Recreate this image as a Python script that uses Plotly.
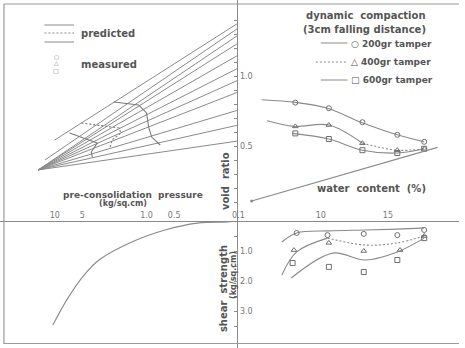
import plotly.graph_objects as go

# ---------------- data ----------------
# upper-right: void ratio vs water content (%)
w_200_line = [5.6, 8.2, 10.5, 13.0, 15.7, 17.7]
e_200_line = [0.83, 0.81, 0.77, 0.67, 0.58, 0.53]
w_400_line_a = [6.0, 8.0, 10.6, 13.1]
e_400_line_a = [0.68, 0.64, 0.65, 0.52]
w_400_line_b = [13.1, 15.7, 17.7]
e_400_line_b = [0.52, 0.47, 0.48]
w_600_line = [7.9, 10.6, 13.1, 15.7, 17.7]
e_600_line = [0.59, 0.55, 0.47, 0.45, 0.48]

w_meas = [8.1, 10.6, 13.1, 15.7, 17.7]
e_meas_200 = [0.81, 0.77, 0.67, 0.58, 0.53]
e_meas_400 = [0.64, 0.65, 0.52, 0.47, 0.48]
e_meas_600 = [0.59, 0.55, 0.47, 0.45, 0.48]

w_sat = [4.85, 18.7]
e_sat = [0.107, 0.49]

# lower-right: shear strength vs water content
w_s200 = [7.1, 8.2, 10.6, 13.3, 15.7, 17.7]
s_200 = [0.70, 0.40, 0.33, 0.30, 0.27, 0.23]
w_s400_a = [7.1, 8.2, 10.5]
s_400_a = [1.8, 1.03, 0.57]
w_s400_b = [10.5, 13.3, 15.7, 17.7]
s_400_b = [0.57, 0.80, 0.73, 0.50]
w_s600 = [7.8, 10.9, 13.3, 15.7, 17.7]
s_600 = [1.9, 1.07, 1.3, 1.03, 0.57]

w_sm200 = [8.2, 10.5, 13.2, 15.7, 17.7]
s_m200 = [0.40, 0.47, 0.43, 0.47, 0.30]
w_sm400 = [8.0, 10.6, 13.2, 15.9, 17.7]
s_m400 = [0.97, 0.73, 1.0, 0.97, 0.50]
w_sm600 = [7.9, 10.6, 13.2, 15.7, 17.7]
s_m600 = [1.4, 1.53, 1.7, 1.3, 0.57]

# lower-left: shear strength vs pre-consolidation pressure
p_curve = [10.5, 7.4, 5.0, 3.3, 1.45, 0.63, 0.28, 0.13, 0.105]
s_curve = [3.47, 2.63, 1.87, 1.30, 0.70, 0.30, 0.07, 0.03, 0.01]

# upper-left: fan of e - log p lines
fan_p_start = [10.0, 12.8, 15.2, 15.2, 15.2, 15.2, 15.2, 15.2, 15.2, 15.2, 15.2]
fan_e_start = [0.543, 0.40, 0.329, 0.329, 0.329, 0.329, 0.329, 0.329, 0.329, 0.329, 0.329]
fan_p_end = [0.1] * 11
fan_e_end = [1.379, 1.343, 1.293, 1.236, 1.15, 1.057, 0.971, 0.886, 0.757, 0.65, 0.536]

# predicted pre-consolidation curves
p_pred200 = [2.27, 1.22, 1.0, 0.95, 0.88, 0.71]
e_pred200 = [0.814, 0.793, 0.736, 0.636, 0.564, 0.507]
p_pred400 = [5.13, 3.53, 2.0, 1.9, 2.38, 2.44, 2.56]
e_pred400 = [0.664, 0.65, 0.629, 0.593, 0.543, 0.507, 0.486]
p_pred600 = [6.9, 4.75, 3.45, 4.0, 3.9]
e_pred600 = [0.593, 0.557, 0.521, 0.457, 0.421]

# ticks
p_ticks = [10, 5, 1, 0.5, 0.1]
p_ticktext = ["10", "5", "1.0", "0.5", "0.1"]
w_ticks = [10, 15]
w_ticktext = ["10", "15"]
e_ticks = [round(0.1 * i, 1) for i in range(1, 15)]
e_ticktext = ["1.0" if abs(v - 1.0) < 1e-9 else ("0.5" if abs(v - 0.5) < 1e-9 else "") for v in e_ticks]
s_ticks = [0.5, 1.0, 1.5, 2.0, 2.5, 3.0, 3.5]
s_ticktext = ["", "1.0", "", "2.0", "", "3.0", ""]

# ---------------- layout geometry ----------------
W, H = 465, 348
X0, Y0 = 241.5, 221.0   # origin in pixels


def px(x):
    return x / W


def py(y):
    return 1 - y / H


def w_of(x):
    return 10 + (x - 325) / 13.6


def logp_of(x):
    return -1 + (X0 - x) / 93.0


def e_of(y):
    return 1 - (y - 76) / 140.0


def s_of(y):
    return (y - Y0) / 30.0


LC = "#8a8a8a"
TC = "#555555"
MC = "#707070"
FONT = "DejaVu Sans"
DOT = "2px,2px"

fig = go.Figure()


def line(x, y, xa, ya, dash="solid", shape="spline", width=1.1, color=LC):
    fig.add_trace(go.Scatter(x=x, y=y, xaxis=xa, yaxis=ya, mode="lines",
                             line=dict(color=color, width=width, dash=dash, shape=shape),
                             showlegend=False, hoverinfo="skip"))


def marks(x, y, xa, ya, symbol):
    fig.add_trace(go.Scatter(x=x, y=y, xaxis=xa, yaxis=ya, mode="markers",
                             marker=dict(symbol=symbol, size=5, color=MC,
                                         line=dict(color=MC, width=1)),
                             showlegend=False, hoverinfo="skip"))


# upper-right
line(w_200_line, e_200_line, "x", "y")
line(w_400_line_a, e_400_line_a, "x", "y")
line(w_400_line_b, e_400_line_b, "x", "y", dash=DOT)
line(w_600_line, e_600_line, "x", "y")
marks(w_meas, e_meas_200, "x", "y", "circle-open")
marks(w_meas, e_meas_400, "x", "y", "triangle-up-open")
marks(w_meas, e_meas_600, "x", "y", "square-open")
line(w_sat, e_sat, "x", "y", shape="linear")
fig.add_trace(go.Scatter(x=w_sat[:1], y=e_sat[:1], xaxis="x", yaxis="y", mode="markers",
                         marker=dict(size=3, color=LC), showlegend=False, hoverinfo="skip"))

# lower-right
line(w_s200, s_200, "x", "y2")
line(w_s400_a, s_400_a, "x", "y2")
line(w_s400_b, s_400_b, "x", "y2", dash=DOT)
line(w_s600, s_600, "x", "y2")
marks(w_sm200, s_m200, "x", "y2", "circle-open")
marks(w_sm400, s_m400, "x", "y2", "triangle-up-open")
marks(w_sm600, s_m600, "x", "y2", "square-open")

# lower-left
line(p_curve, s_curve, "x2", "y2")

# upper-left fan
for i in range(len(fan_e_end)):
    line([fan_p_start[i], fan_p_end[i]], [fan_e_start[i], fan_e_end[i]], "x2", "y",
         shape="linear", width=1.0)
line(p_pred200, e_pred200, "x2", "y", shape="linear", color="#7a7a7a")
line(p_pred400, e_pred400, "x2", "y", shape="linear", dash=DOT, color="#7a7a7a")
line(p_pred600, e_pred600, "x2", "y", shape="linear", color="#7a7a7a")

axis_common = dict(showgrid=False, zeroline=False, showline=True, linecolor=LC,
                   linewidth=1.2, tickfont=dict(family=FONT, size=8, color="#777777"))

fig.update_layout(
    width=W, height=H, margin=dict(l=0, r=0, t=0, b=0),
    paper_bgcolor="white", plot_bgcolor="white", showlegend=False,
    xaxis=dict(domain=[px(X0), 1], range=[w_of(X0), w_of(W)], anchor="y",
               tickvals=w_ticks, ticktext=w_ticktext, ticks="",
               ticklabelposition="inside", ticklabeloverflow="allow", **axis_common),
    xaxis2=dict(domain=[0, px(X0)], type="log", range=[logp_of(0), logp_of(X0)], anchor="y",
                tickvals=p_ticks, ticktext=p_ticktext, ticks="",
                ticklabelposition="inside", ticklabeloverflow="allow", **axis_common),
    yaxis=dict(domain=[py(Y0), 1], range=[e_of(Y0), e_of(0)], anchor="x",
               tickvals=e_ticks, ticktext=e_ticktext, ticks="outside", ticklen=3,
               tickcolor=LC, ticklabelposition="inside", ticklabeloverflow="allow",
               **axis_common),
    yaxis2=dict(domain=[0, py(Y0)], range=[s_of(H), s_of(Y0)], anchor="x",
                tickvals=s_ticks, ticktext=s_ticktext, ticks="outside", ticklen=3,
                tickcolor=LC, ticklabelposition="inside", ticklabeloverflow="allow",
                **axis_common),
)

ann = []


def text(x, y, t, size=11, angle=0, xanchor="center", color=TC):
    ann.append(dict(x=px(x), y=py(y), xref="paper", yref="paper", text=t,
                    showarrow=False, textangle=angle, xanchor=xanchor, yanchor="middle",
                    font=dict(family=FONT, size=size, color=color, weight="bold")))


# upper-left legend
text(80, 33, "predicted", size=10, xanchor="left")
text(80, 64, "measured", size=10, xanchor="left")
text(57, 56, "○", size=6, color="#777777")
text(57, 63, "△", size=6, color="#777777")
text(57, 70, "□", size=6, color="#777777")

# upper-right legend
text(371, 16, "dynamic  compaction", size=10)
text(369, 29, "(3cm falling distance)", size=10)
text(354, 44, "○ 200gr tamper", size=9, xanchor="left")
text(354, 62, "△ 400gr tamper", size=9, xanchor="left")
text(354, 80, "□ 600gr tamper", size=9, xanchor="left")

# axis titles
text(376, 188, "water  content  (%)", size=10)
text(135, 195, "pre-consolidation  pressure", size=9)
text(125, 203, "(kg/sq.cm)", size=8)
text(229, 181, "void  ratio", size=10, angle=-90)
text(226, 289, "shear  strength", size=10, angle=-90)
text(236, 275, "(kg/sq.cm)", size=8, angle=-90)

fig.update_layout(annotations=ann)

shapes = []
# legend line samples
for (x0, x1, yy, d) in [(45, 75, 25, "solid"), (45, 75, 33, DOT), (45, 75, 42, "solid"),
                        (325, 352, 43, "solid"), (320, 352, 62, DOT), (325, 352, 80, "solid")]:
    shapes.append(dict(type="line", xref="paper", yref="paper", x0=px(x0), x1=px(x1),
                       y0=py(yy), y1=py(yy), line=dict(color=LC, width=1, dash=d)))
# scanned page frame
for (x0, y0, x1, y1) in [(4, 4, 4, 344), (4, 343.5, 465, 343.5), (4, 4, 465, 4)]:
    shapes.append(dict(type="line", xref="paper", yref="paper", x0=px(x0), x1=px(x1),
                       y0=py(y0), y1=py(y1), line=dict(color="#9a9a9a", width=1.2)))
fig.update_layout(shapes=shapes)

fig.write_html("out.html")
